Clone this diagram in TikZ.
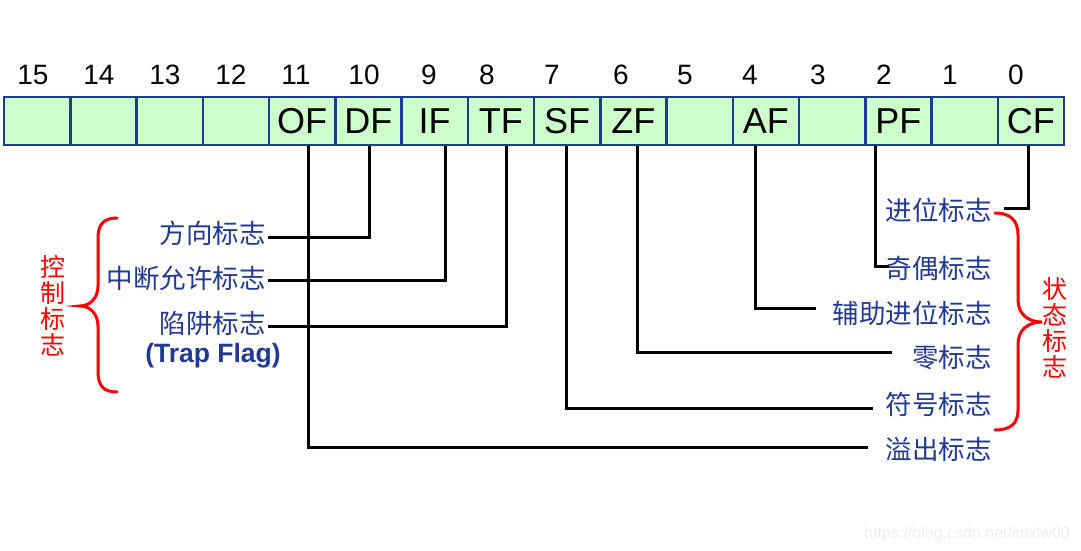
\documentclass[tikz,border=0pt]{standalone}
\usepackage{fontspec}
\setmainfont{Liberation Sans}
\newfontfamily\cjk{Noto Sans CJK SC}
\usetikzlibrary{calc}
\definecolor{regblue}{RGB}{31,58,147}
\definecolor{cellgreen}{RGB}{204,255,204}
\definecolor{txtblue}{RGB}{32,56,150}
\tikzset{
  cell/.style={draw=regblue, fill=cellgreen, line width=2.5pt, minimum width=66.25pt, minimum height=48pt, inner sep=0pt, font=\fontsize{36}{36}\selectfont},
  bitno/.style={inner sep=0pt, font=\fontsize{28}{28}\selectfont},
  flag/.style={text=txtblue, inner sep=0pt, font=\cjk\fontsize{26.5}{26.5}\selectfont},
  grp/.style={text=red, inner sep=0pt, align=center, font=\cjk\fontsize{25}{26}\selectfont},
  wire/.style={line width=3pt},
  bracepath/.style={red, line width=3pt, line cap=round}
}

\begin{document}
\begin{tikzpicture}[x=1pt, y=-1pt]
\useasboundingbox (0,0) rectangle (1081,551);

%寄存器的16位
\foreach \n/\t in {15/{},14/{},13/{},12/{},11/OF,10/DF,9/IF,8/TF,7/SF,6/ZF,5/{},4/AF,3/{},2/PF,1/{},0/CF}
  \node[cell] (c\n) at ({37.125+66.25*(15-\n)},121) {\t};

%位号
\foreach \n/\x in {15/33,14/99,13/165,12/231,11/296,10/364,9/429,8/487,7/552,6/621,5/685,4/750,3/818,2/884,1/950,0/1016}
  \node[bitno] (n\n) at (\x,75) {\n};

%控制标志
\node[flag, anchor=east] (dfl) at (266,233) {方向标志};
\node[flag, anchor=east] (ifl) at (266,278) {中断允许标志};
\node[flag, anchor=east] (tfl) at (266,323) {陷阱标志};
\node[text=txtblue, inner sep=0pt, font=\bfseries\fontsize{26.5}{26.5}\selectfont] (trap) at (213,356) {(Trap Flag)};

%状态标志
\node[flag, anchor=east] (cfl) at (992,210) {进位标志};
\node[flag, anchor=east] (pfl) at (992,268) {奇偶标志};
\node[flag, anchor=east] (afl) at (992,313) {辅助进位标志};
\node[flag, anchor=east] (zfl) at (992,358) {零标志};
\node[flag, anchor=east] (sfl) at (992,404) {符号标志};
\node[flag, anchor=east] (ofl) at (992,449) {溢出标志};

%引线
\draw[wire] ([xshift=1pt]c10.south) |- ($(dfl.east)+(2,4)$);
\draw[wire] ([xshift=11pt]c9.south) |- ($(ifl.east)+(2,2)$);
\draw[wire] ([xshift=6pt]c8.south) |- ($(tfl.east)+(2,3)$);
\draw[wire] ([xshift=-2pt]c0.south) |- ($(cfl.east)+(12,-2)$);
\draw[wire] ([xshift=-23pt]c2.south) |- ($(pfl.west)+(3,-2)$);
\draw[wire] ([xshift=-10pt]c4.south) |- ($(afl.west)+(-17,-5)$);
\draw[wire] ([xshift=4pt]c6.south) |- ($(zfl.west)+(-20,-6)$);
\draw[wire] ([xshift=-1pt]c7.south) |- ($(sfl.west)+(-13,4)$);
\draw[wire] ([xshift=6pt]c11.south) |- ($(ofl.west)+(-18,-2)$);

%左括号
\draw[bracepath] (117,218) .. controls (104,218) and (98,224) .. (98,238) -- (98,286)
  .. controls (98,298) and (90,306) .. (80,306) .. controls (90,306) and (98,314) .. (98,326)
  -- (98,372) .. controls (98,386) and (104,392) .. (117,392);
\node[grp] (ctl) at (53,306) {控\\制\\标\\志};

%右括号
\draw[bracepath] (995,213) .. controls (1010,213) and (1018,220) .. (1018,235) -- (1018,300)
  .. controls (1018,314) and (1028,322) .. (1042,322) .. controls (1028,322) and (1018,330) .. (1018,344)
  -- (1018,410) .. controls (1018,424) and (1010,430) .. (995,430);
\node[grp] (sta) at (1055,328) {状\\态\\标\\志};

%水印
\node[text=black!7, inner sep=0pt, anchor=east, font=\fontsize{16}{16}\selectfont] (wm) at (1070,534) {https://blog.csdn.net/imxlw00};
\end{tikzpicture}
\end{document}
